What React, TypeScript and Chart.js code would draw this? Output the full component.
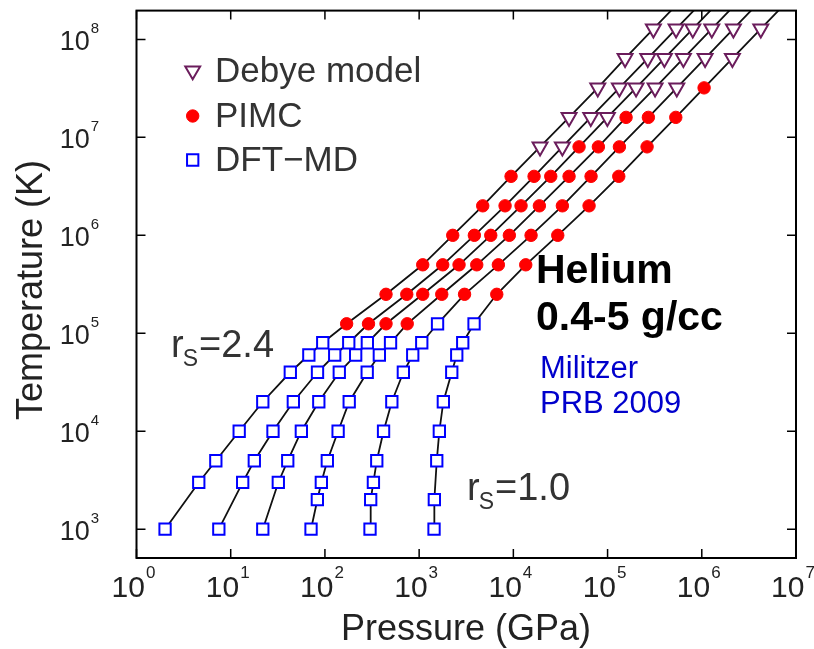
import React, { useEffect, useRef } from "react";
import { Chart, registerables } from "chart.js";

Chart.register(...registerables);

// ---------- data ----------
// temperatures (K) of each set of runs
const DFT_T = [1000, 2000, 3000, 5000, 10000, 20000, 40000, 60000, 80000, 125000];
const PIMC_T = [125000, 250000, 500000, 1e6, 2e6, 4e6, 8e6, 1.6e7, 3.2e7];
const DEBYE_T = [8e6, 1.6e7, 3.2e7, 6.4e7, 1.28e8];
const LINE_END_T = 2.56e8;

// pressures (GPa), one array per isochore (rs = 2.4 ... 1.0), aligned to the T arrays
const dftP1 = [2.01, null, 4.58, 6.95, 12.3, 21.9, 42.9, 67.5, 94.8, null];
const dftP2 = [7.48, null, 13.4, 17.8, 28.1, 46.2, 83.4, 127, 179, null];
const dftP3 = [21.9, null, 32.0, 40.3, 56.2, 86.1, 142, 212, 282, null];
const dftP4 = [71.2, 83.1, 91.6, 106, 138, 181, 281, 378, 497, null];
const dftP5 = [301, 306, 327, 355, 419, 513, 680, 855, 1066, 1568];
const dftP6 = [1439, 1450, null, 1538, 1638, 1807, 2219, 2507, 2902, 3826];

const pimcP1 = [170, 445, 1092, 2273, 4732, 9454, null, null, null];
const pimcP2 = [290, 739, 1780, 3855, 8166, 16590, null, null, null];
const pimcP3 = [445, 1092, 2652, 5757, 12067, 24950, 49830, null, null];
const pimcP4 = [747, 1738, 4088, 9067, 18880, 39020, 79860, 157200, null];
const pimcP5 = [null, 3034, 6931, 15417, 33130, 66800, 133500, 271100, null];
const pimcP6 = [null, 6667, 13540, 29600, 63620, 131500, 262600, 529700, 1058000];

const debyeP1 = [19200, 39020, 78700, 153400, 306400];
const debyeP2 = [33130, 66320, 133500, 267200, 533500];
const debyeP3 = [null, 99500, 200700, 400900, 802600];
const debyeP4 = [null, null, 319300, 637700, 1277000];
const debyeP5 = [null, null, 542700, 1084000, 2165000];
const debyeP6 = [null, null, null, 2113000, 4230000];

// where each isochore line leaves the top of the frame
const lineEndP = [612800, 1067000, 1605000, 2554000, 4330000, 8460000];

const X_EXPONENTS = [0, 1, 2, 3, 4, 5, 6, 7];
const Y_EXPONENTS = [3, 4, 5, 6, 7, 8];

const LEGEND_LABELS = ["Debye model", "PIMC", "DFT\u2212MD"];

// ---------- styles ----------
const FONT = '"Liberation Sans", Arial, Helvetica, sans-serif';
const DFT_STYLE = { shape: "rect", radius: 8, border: "#0000ff", fill: "#ffffff", width: 2, rotation: 0 };
const PIMC_STYLE = { shape: "circle", radius: 6.2, border: "#ff0000", fill: "#ff0000", width: 1, rotation: 0 };
const DEBYE_STYLE = { shape: "triangle", radius: 8.6, border: "#6b1d5c", fill: "#ffffff", width: 2, rotation: 180 };

type Pt = { x: number; y: number };

function pairs(ts: number[], ps: (number | null)[]): Pt[] {
  const out: Pt[] = [];
  ts.forEach((t, i) => {
    const p = ps[i];
    if (p !== null && p !== undefined) out.push({ x: p, y: t });
  });
  return out;
}

const DFT_ALL = [dftP1, dftP2, dftP3, dftP4, dftP5, dftP6];
const PIMC_ALL = [pimcP1, pimcP2, pimcP3, pimcP4, pimcP5, pimcP6];
const DEBYE_ALL = [debyeP1, debyeP2, debyeP3, debyeP4, debyeP5, debyeP6];

function drawMarker(ctx: CanvasRenderingContext2D, st: any, x: number, y: number) {
  ctx.save();
  ctx.lineWidth = st.width;
  ctx.strokeStyle = st.border;
  ctx.fillStyle = st.fill;
  ctx.beginPath();
  const r = st.radius;
  if (st.shape === "rect") {
    const s = Math.SQRT1_2 * r;
    ctx.rect(x - s, y - s, 2 * s, 2 * s);
  } else if (st.shape === "circle") {
    ctx.arc(x, y, r, 0, Math.PI * 2);
  } else {
    // downward triangle
    ctx.moveTo(x, y + r);
    ctx.lineTo(x + (r * Math.sqrt(3)) / 2, y - r / 2);
    ctx.lineTo(x - (r * Math.sqrt(3)) / 2, y - r / 2);
    ctx.closePath();
  }
  ctx.fill();
  ctx.stroke();
  ctx.restore();
}

function drawPow(
  ctx: CanvasRenderingContext2D,
  exp: string,
  x: number,
  y: number,
  baseSize: number,
  supSize: number,
  rise: number,
  align: "center" | "right"
) {
  ctx.font = `${baseSize}px ${FONT}`;
  const w1 = ctx.measureText("10").width;
  ctx.font = `${supSize}px ${FONT}`;
  const w2 = ctx.measureText(exp).width;
  const gap = 1;
  const total = w1 + gap + w2;
  const start = align === "center" ? x - total / 2 : x - total;
  ctx.textAlign = "left";
  ctx.textBaseline = "alphabetic";
  ctx.font = `${baseSize}px ${FONT}`;
  ctx.fillText("10", start, y);
  ctx.font = `${supSize}px ${FONT}`;
  ctx.fillText(exp, start + w1 + gap, y - rise);
}

function drawSubLabel(ctx: CanvasRenderingContext2D, value: string, x: number, y: number) {
  ctx.textAlign = "left";
  ctx.textBaseline = "alphabetic";
  ctx.fillStyle = "#333";
  ctx.font = `38px ${FONT}`;
  ctx.fillText("r", x, y);
  const wr = ctx.measureText("r").width;
  ctx.font = `23px ${FONT}`;
  ctx.fillText("S", x + wr - 1, y + 9);
  const ws = ctx.measureText("S").width;
  ctx.font = `38px ${FONT}`;
  ctx.fillText("=" + value, x + wr + ws, y);
}

const decorPlugin = {
  id: "decor",
  afterDatasetsDraw(chart: any) {
    const { ctx, chartArea: a, scales } = chart;
    const xs = scales.x;
    const ys = scales.y;
    ctx.save();
    // inward ticks
    ctx.strokeStyle = "#000";
    ctx.lineWidth = 1.5;
    const TL = 9;
    ctx.beginPath();
    X_EXPONENTS.forEach((e) => {
      const px = xs.getPixelForValue(Math.pow(10, e));
      ctx.moveTo(px, a.bottom);
      ctx.lineTo(px, a.bottom - TL);
      ctx.moveTo(px, a.top);
      ctx.lineTo(px, a.top + TL);
    });
    Y_EXPONENTS.forEach((e) => {
      const py = ys.getPixelForValue(Math.pow(10, e));
      ctx.moveTo(a.left, py);
      ctx.lineTo(a.left + TL, py);
      ctx.moveTo(a.right, py);
      ctx.lineTo(a.right - TL, py);
    });
    ctx.stroke();
    // frame
    ctx.lineWidth = 2;
    ctx.strokeRect(a.left, a.top, a.right - a.left, a.bottom - a.top);

    // tick labels
    ctx.fillStyle = "#222";
    X_EXPONENTS.forEach((e) => {
      const px = xs.getPixelForValue(Math.pow(10, e));
      drawPow(ctx, String(e), px - 3, 597, 30, 17, 19, "center");
    });
    Y_EXPONENTS.forEach((e) => {
      const py = ys.getPixelForValue(Math.pow(10, e));
      drawPow(ctx, String(e), 99, py + 11, 27, 15, 17.5, "right");
    });

    // axis titles
    ctx.fillStyle = "#222";
    ctx.font = `36px ${FONT}`;
    ctx.textAlign = "center";
    ctx.textBaseline = "alphabetic";
    ctx.fillText("Pressure (GPa)", 466, 640);
    ctx.save();
    ctx.translate(42, 290);
    ctx.rotate(-Math.PI / 2);
    ctx.fillText("Temperature (K)", 0, 0);
    ctx.restore();

    // legend
    const legendStyles = [DEBYE_STYLE, PIMC_STYLE, DFT_STYLE];
    const legendY = [70.7, 116, 160];
    const legendBase = [81.7, 126.7, 170.7];
    ctx.font = `35px ${FONT}`;
    ctx.textAlign = "left";
    LEGEND_LABELS.forEach((lab, i) => {
      drawMarker(ctx, legendStyles[i], 192.7, legendY[i]);
      ctx.fillStyle = "#333";
      ctx.font = `35px ${FONT}`;
      ctx.fillText(lab, 215, legendBase[i]);
    });

    // annotations
    drawSubLabel(ctx, "2.4", 171, 357);
    drawSubLabel(ctx, "1.0", 467, 500);

    ctx.fillStyle = "#000";
    ctx.font = `bold 41px ${FONT}`;
    ctx.textAlign = "left";
    ctx.fillText("Helium", 536, 283);
    ctx.fillText("0.4-5 g/cc", 536, 330);

    ctx.fillStyle = "#0000cc";
    ctx.font = `31px ${FONT}`;
    ctx.fillText("Militzer", 540, 378);
    ctx.fillText("PRB 2009", 540, 413);

    ctx.restore();
  },
};

function scatterSet(label: string, data: Pt[], st: any) {
  return {
    label,
    data,
    showLine: false,
    pointStyle: st.shape,
    pointRadius: st.radius,
    pointHoverRadius: st.radius,
    pointBorderWidth: st.width,
    pointBorderColor: st.border,
    pointBackgroundColor: st.fill,
    pointRotation: st.rotation,
    borderColor: st.border,
    backgroundColor: st.fill,
    order: 0,
  };
}

export default function App() {
  const canvasRef = useRef<HTMLCanvasElement | null>(null);

  useEffect(() => {
    const canvas = canvasRef.current;
    if (!canvas) return;

    const lineSets = DFT_ALL.map((dp, i) => {
      const pts = [
        ...pairs(DFT_T, dp),
        ...pairs(PIMC_T, PIMC_ALL[i]),
        ...pairs(DEBYE_T, DEBYE_ALL[i]),
        { x: lineEndP[i], y: LINE_END_T },
      ];
      // one point per temperature, ordered by temperature
      const seen = new Map<number, Pt>();
      pts.forEach((p) => {
        if (!seen.has(p.y)) seen.set(p.y, p);
      });
      const sorted = Array.from(seen.values()).sort((a, b) => a.y - b.y);
      return {
        label: "isochore " + (i + 1),
        data: sorted,
        showLine: true,
        borderColor: "#111",
        borderWidth: 1.8,
        pointRadius: 0,
        pointHoverRadius: 0,
        fill: false,
        tension: 0,
        order: 2,
      };
    });

    const dftPts = DFT_ALL.flatMap((dp) => pairs(DFT_T, dp));
    const pimcPts = PIMC_ALL.flatMap((pp) => pairs(PIMC_T, pp));
    const debyePts = DEBYE_ALL.flatMap((bp) => pairs(DEBYE_T, bp));

    const chart = new Chart(canvas, {
      type: "scatter",
      data: {
        datasets: [
          scatterSet("Debye model", debyePts, DEBYE_STYLE),
          scatterSet("PIMC", pimcPts, PIMC_STYLE),
          scatterSet("DFT-MD", dftPts, DFT_STYLE),
          ...lineSets,
        ] as any,
      },
      options: {
        responsive: false,
        animation: false,
        events: [],
        layout: { padding: { left: 136.5, right: 18, top: 7, bottom: 91 } },
        plugins: {
          legend: { display: false },
          tooltip: { enabled: false },
          title: { display: false },
        },
        scales: {
          x: {
            type: "logarithmic",
            display: false,
            min: 1,
            max: 1e7,
          },
          y: {
            type: "logarithmic",
            display: false,
            min: Math.pow(10, 2.706),
            max: Math.pow(10, 8.294),
          },
        },
      } as any,
      plugins: [decorPlugin],
    });

    return () => chart.destroy();
  }, []);

  return (
    <div style={{ position: "absolute", left: 0, top: 0, width: 814, height: 649, background: "#fff" }}>
      <canvas ref={canvasRef} width={814} height={649} style={{ display: "block" }} />
    </div>
  );
}
